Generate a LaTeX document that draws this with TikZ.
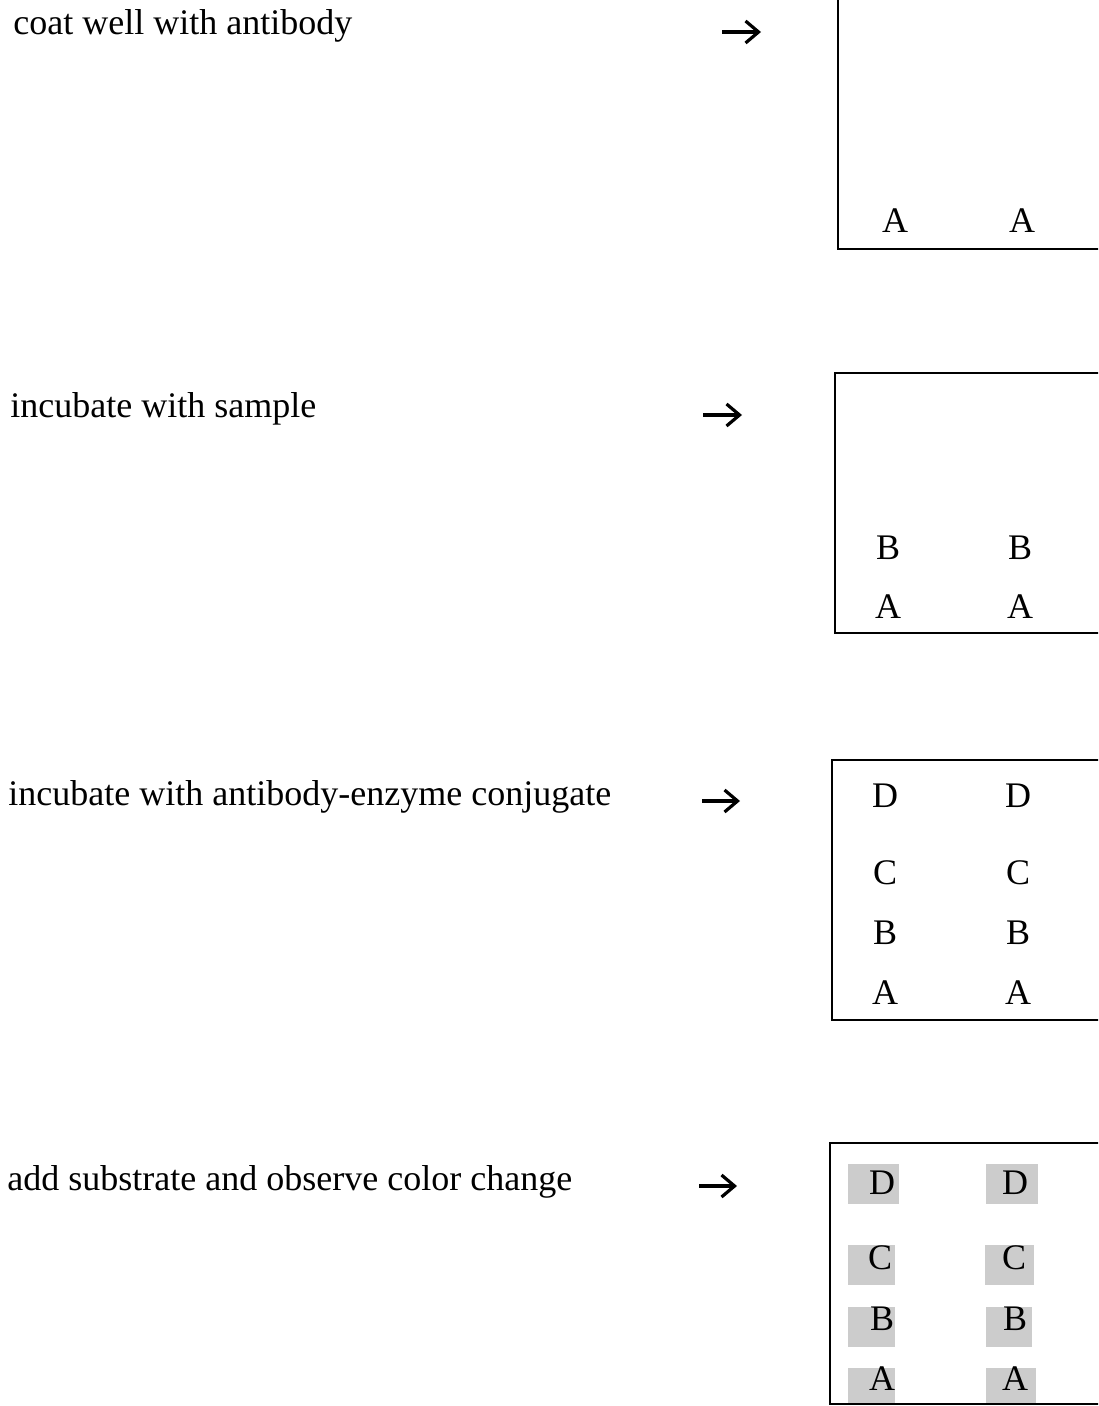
\documentclass[tikz,border=0pt]{standalone}
\usepackage{fontspec}
\setmainfont{Liberation Serif}
\usetikzlibrary{arrows.meta}
\tikzset{
  steptext/.style={anchor=base west, inner sep=0pt, font=\fontsize{18}{20}\selectfont},
  lett/.style={anchor=base, inner sep=0pt, font=\fontsize{18}{20}\selectfont},
  well/.style={draw=black, line width=1.3pt},
  patch/.style={fill=black!20, draw=none},
  steparrow/.style={line width=1.8pt, -{Straight Barb[length=6.5pt,width=11pt,line width=1.6pt]}}
}
\begin{document}
\begin{tikzpicture}[x=0.5pt,y=-0.5pt]
\useasboundingbox (0,0) rectangle (1098,1406);
\clip (0,0) rectangle (1098,1406);
% step texts
\node[steptext] (t1) at (13,35) {coat well with antibody};
\node[steptext] (t2) at (10,417) {incubate with sample};
\node[steptext] (t3) at (8,805) {incubate with antibody-enzyme conjugate};
\node[steptext] (t4) at (7,1190) {add substrate and observe color change};
% arrows
\coordinate (a1s) at (722,32);  \coordinate (a1e) at (761,32);
\coordinate (a2s) at (703,415); \coordinate (a2e) at (742,415);
\coordinate (a3s) at (702,801); \coordinate (a3e) at (740,801);
\coordinate (a4s) at (699,1186);\coordinate (a4e) at (737,1186);
\draw[steparrow] (a1s) -- (a1e);
\draw[steparrow] (a2s) -- (a2e);
\draw[steparrow] (a3s) -- (a3e);
\draw[steparrow] (a4s) -- (a4e);
% wells
\draw[well] (838,-11) rectangle (1110,249);
\draw[well] (835,373) rectangle (1110,633);
\draw[well] (832,760) rectangle (1110,1020);
% patches in well 4
\fill[patch] (848,1164) rectangle (899,1204);
\fill[patch] (986,1164) rectangle (1038,1204);
\fill[patch] (848,1245) rectangle (895,1285);
\fill[patch] (985,1245) rectangle (1034,1285);
\fill[patch] (848,1307) rectangle (895,1347);
\fill[patch] (986,1307) rectangle (1032,1347);
\fill[patch] (848,1368) rectangle (895,1403);
\fill[patch] (986,1368) rectangle (1036,1403);
\draw[well] (830,1143) rectangle (1110,1404);
% letters well 1
\node[lett] (w1a1) at (895,233) {A};
\node[lett] (w1a2) at (1022,233) {A};
% well 2
\node[lett] (w2b1) at (888,559) {B};
\node[lett] (w2b2) at (1020,559) {B};
\node[lett] (w2a1) at (888,618) {A};
\node[lett] (w2a2) at (1020,618) {A};
% well 3
\node[lett] (w3d1) at (885,807) {D};
\node[lett] (w3d2) at (1018,807) {D};
\node[lett] (w3c1) at (885,884) {C};
\node[lett] (w3c2) at (1018,884) {C};
\node[lett] (w3b1) at (885,944) {B};
\node[lett] (w3b2) at (1018,944) {B};
\node[lett] (w3a1) at (885,1004) {A};
\node[lett] (w3a2) at (1018,1004) {A};
% well 4
\node[lett] (w4d1) at (882,1194) {D};
\node[lett] (w4d2) at (1015,1194) {D};
\node[lett] (w4c1) at (880,1269) {C};
\node[lett] (w4c2) at (1014,1269) {C};
\node[lett] (w4b1) at (882,1330) {B};
\node[lett] (w4b2) at (1015,1330) {B};
\node[lett] (w4a1) at (882,1390) {A};
\node[lett] (w4a2) at (1015,1390) {A};
\end{tikzpicture}
\end{document}
